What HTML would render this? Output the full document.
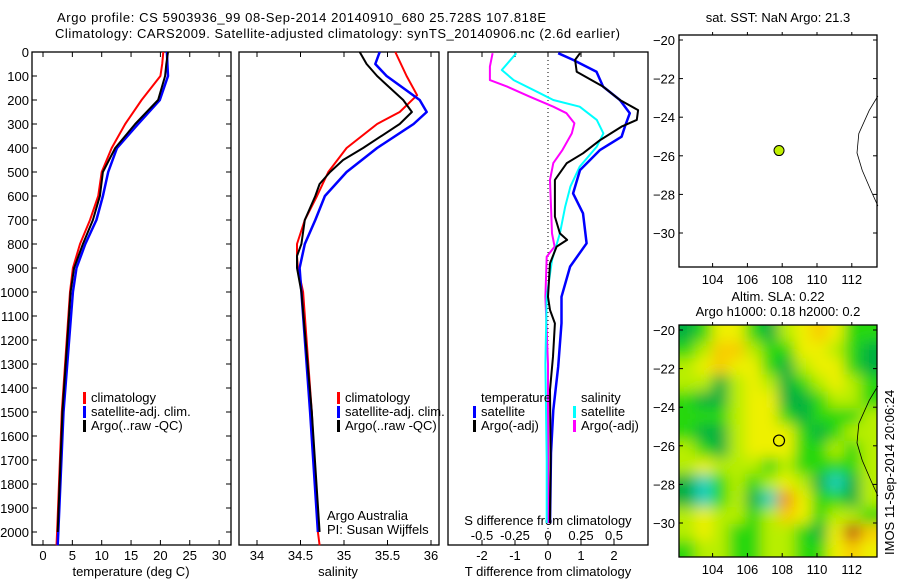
<!DOCTYPE html>
<html><head><meta charset="utf-8">
<style>
html,body{margin:0;padding:0;background:#fff;}
svg{display:block;font-family:"Liberation Sans",sans-serif;}
text{font-size:13px;fill:#000;}
</style></head>
<body>
<svg id="c" width="900" height="580" viewBox="0 0 900 580" xmlns="http://www.w3.org/2000/svg">
<defs>
<filter id="blur" x="-10%" y="-10%" width="120%" height="120%"><feGaussianBlur stdDeviation="7"/></filter>
<clipPath id="mapclip"><rect x="679" y="325" width="198" height="232"/></clipPath>
</defs>
<text x="57" y="22" textLength="489" lengthAdjust="spacing">Argo profile: CS 5903936_99 08-Sep-2014 20140910_680 25.728S 107.818E</text>
<text x="55" y="38" textLength="565" lengthAdjust="spacing">Climatology: CARS2009. Satellite-adjusted climatology: synTS_20140906.nc (2.6d earlier)</text>
<g id="g"></g>
</svg>
<script>
// ---------- data ----------
const tDepth = [0,50,100,200,300,400,500,600,700,800,900,1000,1500,2000,2055];
const tClim  = [20.5,20.3,20.0,16.8,14.0,11.7,10.0,9.4,8.0,6.3,5.1,4.6,3.2,2.4,2.3];
const tSat   = [21.1,21.2,21.3,19.9,16.2,12.6,11.1,10.2,9.1,7.2,5.7,5.1,3.5,2.6,2.5];
const tArgoD = [0,50,100,200,300,400,500,600,700,800,900,1000,1500,2000];
const tArgo  = [21.3,21.0,20.8,19.6,15.7,12.3,10.2,9.7,8.5,6.8,5.3,4.7,3.3,2.5];

const sDepth = [0,100,180,250,300,400,500,600,700,800,850,900,1000,1500,2000,2055];
const sClim  = [35.59,35.72,35.84,35.64,35.38,35.03,34.82,34.69,34.55,34.46,34.46,34.47,34.53,34.63,34.70,34.72];
const sSatD  = [0,50,100,150,200,250,300,400,500,600,700,800,900,1000,1500,2000];
const sSat   = [35.41,35.36,35.49,35.68,35.87,35.95,35.80,35.38,35.03,34.78,34.67,34.55,34.49,34.51,34.61,34.70];
const sArgoD = [0,50,100,150,200,250,300,400,450,500,550,600,700,800,850,900,1000,1500,2000];
const sArgo  = [35.18,35.26,35.38,35.53,35.68,35.78,35.64,35.22,34.99,34.84,34.72,34.67,34.55,34.51,34.46,34.46,34.51,34.63,34.72];

const dTSatD = [5,33,82,144,200,255,311,353,408,492,589,672,797,894,1020,1130,1311,1492,1671,1963];
const dTSat  = [0.31,0.76,1.47,1.67,2.18,2.48,2.33,2.23,1.58,0.97,0.76,1.06,1.17,0.67,0.41,0.41,0.31,0.16,0.09,0.06];
const dTArgoD= [5,33,82,144,200,242,283,311,367,422,463,533,686,756,783,811,881,1020,1075,1131,1269,1408,1686,1963];
const dTArgo = [0.97,0.82,0.87,1.67,2.18,2.73,2.69,2.23,1.58,1.06,0.57,0.21,0.21,0.36,0.58,0.26,0.06,0.0,0.06,0.21,0.15,0.06,0.08,0.06];
const dSSatD = [5,75,117,172,200,228,283,339,394,478,561,644,756,867,1020,1300,1700,1963];
const dSSat  = [-0.24,-0.35,-0.26,-0.06,0.04,0.24,0.37,0.42,0.37,0.24,0.17,0.13,0.09,0.03,-0.01,-0.02,-0.01,-0.01];
const dSArgoD= [5,61,117,144,186,228,255,297,339,408,463,533,756,811,853,1020,1300,1700,1963];
const dSArgo = [-0.42,-0.44,-0.44,-0.31,-0.14,0.04,0.14,0.20,0.18,0.11,0.04,0.015,0.03,0.05,-0.01,-0.02,0,0,0];

const depthTicks = [0,100,200,300,400,500,600,700,800,900,1000,1100,1200,1300,1400,1500,1600,1700,1800,1900,2000];
const tempTicks = [0,5,10,15,20,25,30];
const salTicks = [34,34.5,35,35.5,36];
const dTTicks = [-2,-1,0,1,2];
const dSTicks = [-0.5,-0.25,0,0.25,0.5];
const latTicks = [-20,-22,-24,-26,-28,-30];
const lonTicks = [104,106,108,110,112];
const argoLon = 107.818, argoLat = -25.728;
const coastLon = [113.5,113.0,112.4,112.3,112.6,113.1,113.5];
const coastLat = [-22.9,-23.65,-24.85,-25.85,-26.75,-27.8,-28.6];
// SLA anomaly classes (rows north->south, cols west->east)
const slaGrid = [
 [-1,0,2,2,0,-1,1,2,3,2,0,0],
 [0,1,3,3,1,0,0,2,2,1,0,-1],
 [1,2,3,2,2,0,-1,1,2,2,0,-1],
 [1,1,-1,1,2,1,-1,0,1,2,1,0],
 [0,-1,-1,1,2,2,-1,-1,0,1,1,0],
 [0,0,0,1,2,2,0,-1,0,0,0,1],
 [0,-1,-1,1,2,2,2,0,-1,0,1,1],
 [1,0,-1,1,2,2,2,0,0,1,0,1],
 [1,2,1,1,1,0,1,0,0,0,0,1],
 [-1,-2,0,1,0,1,2,1,-1,-2,-1,1],
 [-1,-2,0,1,-1,-2,4,2,0,0,-1,1],
 [1,2,1,1,0,1,3,2,0,1,1,0],
 [1,2,1,0,0,1,1,0,-1,2,5,3],
 [0,1,1,0,0,1,1,0,0,2,3,2]
];
const slaColors = {"-2":"#20d0c0","-1":"#00b040","0":"#28d810","1":"#b8ee00","2":"#eef000","3":"#f8cc00","4":"#f09000","5":"#c04010"};

// ---------- scales ----------
const yD = d => 52 + d*0.24;
const xT = t => 43 + 5.87*t;
const xS = s => 257 + 87*(s-34);
const xdT = v => 548 + 33*v;
const xdS = v => 548 + 132*v;
const lonX = l => 712.6 + 17.4*(l-104);
const latY = (a, top) => top + 5 + (-20 - a)*19.3;

const NS="http://www.w3.org/2000/svg";
const G=document.getElementById('g');
function mk(tag, attrs, parent){const e=document.createElementNS(NS,tag);for(const k in attrs)e.setAttribute(k,attrs[k]);(parent||G).appendChild(e);return e;}
function txt(x,y,s,anchor,parent){const e=mk('text',{x:x,y:y,'text-anchor':anchor||'start'},parent);e.textContent=s;return e;}
function poly(xs,ds,fx,color,w){
  let p='';for(let i=0;i<xs.length;i++)p+=(i?'L':'M')+fx(xs[i]).toFixed(1)+','+yD(ds[i]).toFixed(1);
  return mk('path',{d:p,fill:'none',stroke:color,'stroke-width':w||2,'stroke-linejoin':'round'});
}

// panels
const panels=[[32,231,'temperature-panel'],[239,439,'salinity-panel'],[448,648,'difference-panel']];
panels.forEach(p=>{
  const r=mk('rect',{x:p[0],y:52,width:p[1]-p[0],height:493,fill:'none',stroke:'#000','stroke-width':1.3});
  
  
});
// depth ticks
depthTicks.forEach(d=>{
  const y=yD(d);
  mk('line',{x1:32,x2:37,y1:y,y2:y,stroke:'#000'});
  mk('line',{x1:226,x2:231,y1:y,y2:y,stroke:'#000'});
  const t=txt(29,y+5,String(d),'end');
  
  
});
// temperature axis
tempTicks.forEach(v=>{const x=xT(v);
  mk('line',{x1:x,x2:x,y1:545,y2:540,stroke:'#000'});mk('line',{x1:x,x2:x,y1:52,y2:57,stroke:'#000'});
  const t=txt(x,560,String(v),'middle');
  
  
});
let t1=txt(131,576,'temperature (deg C)','middle');


salTicks.forEach(v=>{const x=xS(v);
  mk('line',{x1:x,x2:x,y1:545,y2:540,stroke:'#000'});mk('line',{x1:x,x2:x,y1:52,y2:57,stroke:'#000'});
  const t=txt(x,560,String(v),'middle');
  
  
});
let t2=txt(338,576,'salinity','middle');


dTTicks.forEach(v=>{const x=xdT(v);
  mk('line',{x1:x,x2:x,y1:545,y2:540,stroke:'#000'});mk('line',{x1:x,x2:x,y1:52,y2:57,stroke:'#000'});
  const t=txt(x,560,String(v),'middle');
  
  
});
dSTicks.forEach(v=>{const x=xdS(v);
  const t=txt(x,540,String(v),'middle');
  
  
});
let t3=txt(548,576,'T difference from climatology','middle');


let t4=txt(548,525,'S difference from climatology','middle');


// zero line
const zl=mk('line',{x1:xdT(0),x2:xdT(0),y1:52,y2:545,stroke:'#000','stroke-dasharray':'1,3'});



// series
let s;
s=poly(tClim,tDepth,xT,'#ff0000');
s=poly(tSat,tDepth,xT,'#0000ff',2.5);
s=poly(tArgo,tArgoD,xT,'#000000');
s=poly(sClim,sDepth,xS,'#ff0000');
s=poly(sSat,sSatD,xS,'#0000ff',2.5);
s=poly(sArgo,sArgoD,xS,'#000000');
s=poly(dSArgo,dSArgoD,xdS,'#ff00ff');
s=poly(dSSat,dSSatD,xdS,'#00ffff');
s=poly(dTSat,dTSatD,xdT,'#0000ff',2.5);
s=poly(dTArgo,dTArgoD,xdT,'#000000');

// legends
function legend(x,y,items){
  items.forEach((it,i)=>{
    const yy=y+i*14;
    const b=mk('rect',{x:x,y:yy-10,width:3,height:12,fill:it[1]});
    
    
    const t=txt(x+8,yy,it[0]);
    
    
  });
}
legend(83,402,[['climatology','#ff0000'],['satellite-adj. clim.','#0000ff'],['Argo(..raw -QC)','#000000']]);
legend(337,402,[['climatology','#ff0000'],['satellite-adj. clim.','#0000ff'],['Argo(..raw -QC)','#000000']]);
let lt=txt(481,402,'temperature');
let ls=txt(581,402,'salinity');
legend(473,416,[['satellite','#0000ff'],['Argo(-adj)','#000000']]);
legend(573,416,[['satellite','#00ffff'],['Argo(-adj)','#ff00ff']]);
let pi=txt(327,520,'Argo Australia');
let pi2=txt(327,534,'PI: Susan Wijffels');

// ---------- maps ----------
function mapAxes(top,name){
  const r=mk('rect',{x:679,y:top,width:198,height:232,fill:'none',stroke:'#000','stroke-width':1.3});
  
  
  latTicks.forEach(a=>{const y=latY(a,top);
    mk('line',{x1:679,x2:683,y1:y,y2:y,stroke:'#000'});mk('line',{x1:873,x2:877,y1:y,y2:y,stroke:'#000'});
    const t=txt(675,y+5,String(a).replace('-','\u2212'),'end');
    
    
  });
  lonTicks.forEach(l=>{const x=lonX(l);
    mk('line',{x1:x,x2:x,y1:top,y2:top-3,stroke:'#000'});mk('line',{x1:x,x2:x,y1:top+232,y2:top+228,stroke:'#000'});
    const t=txt(x,top+249,String(l),'middle');
    
    
  });
  let p='';coastLon.forEach((l,i)=>{p+=(i?'L':'M')+lonX(l).toFixed(1)+','+latY(coastLat[i],top).toFixed(1);});
  const c=mk('path',{d:p,fill:'none',stroke:'#000','stroke-width':0.8});
  
  
}
// heatmap
const clipG=mk('g',{'clip-path':'url(#mapclip)'});
const blurG=mk('g',{filter:'url(#blur)'},clipG);
const lon0=102.07, dlon=198/12/17.4, lat0=-19.74, dlat=232/14/19.3;
slaGrid.forEach((row,r)=>{row.forEach((v,c)=>{
  let x=lonX(lon0+c*dlon), y=latY(lat0-r*dlat,325), w=lonX(lon0+(c+1)*dlon)-x, h=latY(lat0-(r+1)*dlat,325)-y;
  if(c===0){x-=20;w+=20;} if(c===row.length-1){w+=20;}
  if(r===0){y-=20;h+=20;} if(r===slaGrid.length-1){h+=20;}
  const cell=mk('rect',{x:x.toFixed(1),y:y.toFixed(1),width:(w+0.5).toFixed(1),height:(h+0.5).toFixed(1),fill:slaColors[String(v)]},blurG);
  
  
});});
mapAxes(35,'sst-map');
mapAxes(325,'sla-map');
const dot=mk('circle',{cx:lonX(argoLon),cy:latY(argoLat,35),r:5,fill:'#c0f000',stroke:'#000','stroke-width':1});


const dot2=mk('circle',{cx:lonX(argoLon),cy:latY(argoLat,325),r:5.5,fill:'none',stroke:'#000','stroke-width':1.2});


let m1=txt(778,22,'sat. SST: NaN Argo: 21.3','middle');
let m2=txt(778,301,'Altim. SLA: 0.22','middle');
let m3=txt(778,316,'Argo h1000: 0.18 h2000: 0.2','middle');
let ts=txt(0,0,'IMOS 11-Sep-2014 20:06:24','start');
ts.setAttribute('transform','translate(894,555) rotate(-90)');


</script>
</body></html>
